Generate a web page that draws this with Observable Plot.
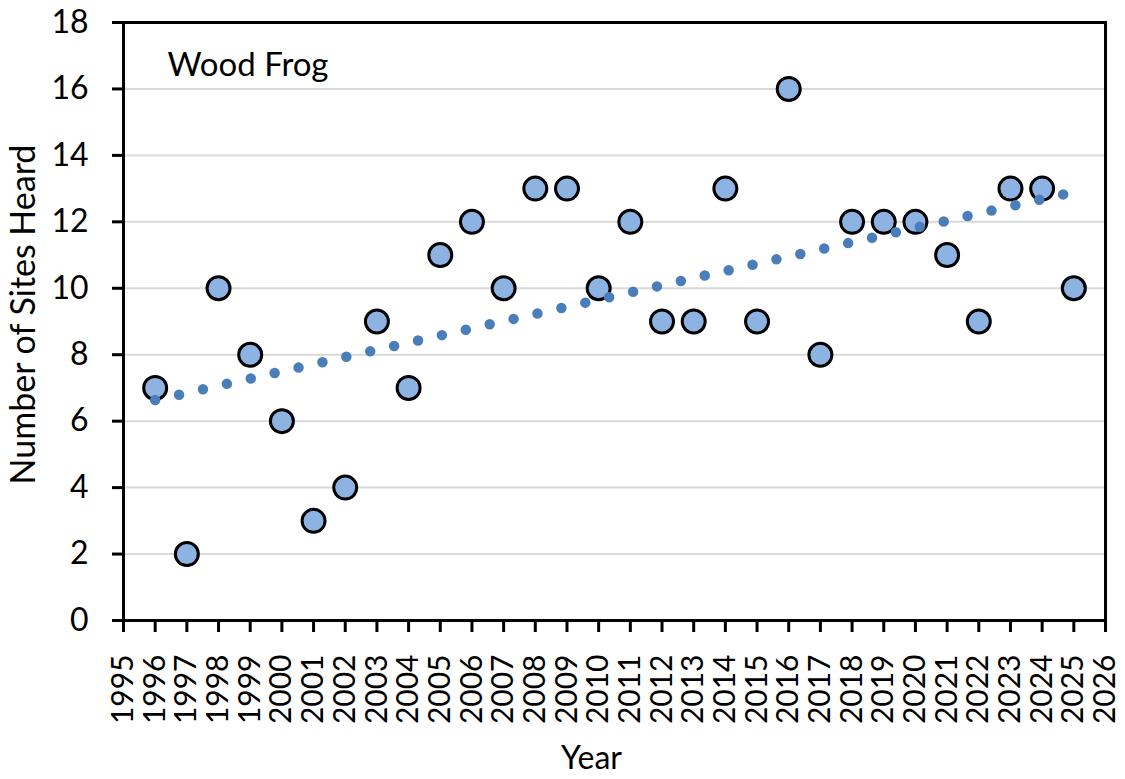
<!DOCTYPE html>
<html>
<head>
<meta charset="utf-8">
<script src="https://cdn.jsdelivr.net/npm/d3@7"></script>
<script src="https://cdn.jsdelivr.net/npm/@observablehq/plot@0.6"></script>
<style>
  html, body { margin: 0; padding: 0; background: #fff; }
  #chart svg { display: block; font-family: Lato, "Open Sans", sans-serif; }
</style>
</head>
<body>
<div id="chart"></div>
<script>
const years = [1996,1997,1998,1999,2000,2001,2002,2003,2004,2005,2006,2007,2008,2009,2010,2011,2012,2013,2014,2015,2016,2017,2018,2019,2020,2021,2022,2023,2024,2025];
const sites = [7,2,10,8,6,3,4,9,7,11,12,10,13,13,10,12,9,9,13,9,16,8,12,12,12,11,9,13,13,10];
const xTicks = d3.range(1995, 2027);
const yTicks = [0,2,4,6,8,10,12,14,16,18];
const speciesLabel = ["Wood Frog"];
const xTitle = ["Year"];
const yTitle = ["Number of Sites Heard"];

const data = years.map((y, i) => ({year: y, sites: sites[i]}));

// least-squares linear trend (as in the spreadsheet's trendline)
const mx = d3.mean(years), my = d3.mean(sites);
const slope = d3.sum(years, (x, i) => (x - mx) * (sites[i] - my)) / d3.sum(years, x => (x - mx) ** 2);
const intercept = my - slope * mx;
const trend = [d3.min(years), d3.max(years)].map(x => ({year: x, sites: intercept + slope * x}));

const chart = Plot.plot({
  width: 1125,
  height: 779,
  marginLeft: 123,
  marginRight: 20,
  marginTop: 22,
  marginBottom: 159,
  style: {fontFamily: "Lato, 'Open Sans', sans-serif", color: "#000", background: "#fff"},
  x: {domain: [1995, 2026]},
  y: {domain: [0, 18]},
  marks: [
    Plot.gridY(yTicks, {stroke: "#d9d9d9", strokeOpacity: 1, strokeWidth: 2}),
    Plot.axisY(yTicks, {tickSize: 11, tickPadding: 24, fontSize: 32, strokeWidth: 3, label: null}),
    Plot.axisX(xTicks, {tickSize: 12, tickPadding: 22, fontSize: 30, strokeWidth: 3, tickRotate: -90,
      tickFormat: d => String(d), label: null}),
    Plot.dot(data, {x: "year", y: "sites", r: 11.5, fill: "#8db3e2", stroke: "#000", strokeWidth: 3}),
    Plot.line(trend, {x: "year", y: "sites", stroke: "#4a7ebb", strokeWidth: 10.5,
      strokeDasharray: "0,24.5", strokeLinecap: "round"}),
    Plot.text(speciesLabel, {text: d => d, frameAnchor: "top-left", dx: 44, dy: 43, lineAnchor: "middle",
      fontSize: 33, textAnchor: "start", fill: "#000"}),
    Plot.text(xTitle, {text: d => d, frameAnchor: "bottom", dx: -23, dy: 138, lineAnchor: "middle",
      fontSize: 32, fill: "#000"}),
    Plot.text(yTitle, {text: d => d, frameAnchor: "left", dx: -99, dy: -7, rotate: -90, lineAnchor: "middle",
      textAnchor: "middle", fontSize: 34, fill: "#000"}),
    Plot.frame({stroke: "#000", strokeWidth: 3})
  ]
});
document.getElementById("chart").appendChild(chart);
</script>
</body>
</html>
